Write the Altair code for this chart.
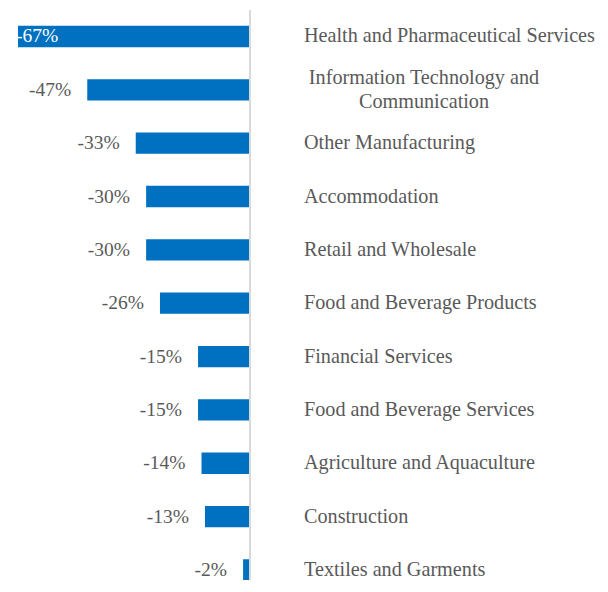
import altair as alt
import pandas as pd

categories = [
    "Health and Pharmaceutical Services",
    "Information Technology and Communication",
    "Other Manufacturing",
    "Accommodation",
    "Retail and Wholesale",
    "Food and Beverage Products",
    "Financial Services",
    "Food and Beverage Services",
    "Agriculture and Aquaculture",
    "Construction",
    "Textiles and Garments",
]
values = [-67, -47, -33, -30, -30, -26, -15, -15, -14, -13, -2]
label_lines = [
    ["Health and Pharmaceutical Services"],
    ["Information Technology and", "Communication"],
    ["Other Manufacturing"],
    ["Accommodation"],
    ["Retail and Wholesale"],
    ["Food and Beverage Products"],
    ["Financial Services"],
    ["Food and Beverage Services"],
    ["Agriculture and Aquaculture"],
    ["Construction"],
    ["Textiles and Garments"],
]

df = pd.DataFrame({
    "category": categories,
    "value": values,
    "lines": label_lines,
    "multi": [len(l) > 1 for l in label_lines],
    "inside": [v == min(values) for v in values],
})
df["pct"] = [f"{v}%" for v in values]
df["zero"] = 0

FONT = "Liberation Serif"
GREY = "#595959"
W, H = 242, 572
XDOM = [-69.89, 0]

xscale = alt.Scale(domain=XDOM, nice=False, zero=False)
x = alt.X("value:Q", scale=xscale, axis=None)
x0 = alt.X("zero:Q", scale=xscale, axis=None)
y = alt.Y("category:N", sort=categories, axis=None,
          scale=alt.Scale(range=[17.8, 572.6], paddingInner=0.6, paddingOuter=0))

base = alt.Chart(df)

bars = base.mark_bar(color="#0070C0").encode(x=x, x2=alt.datum(0), y=y)

axis_line = base.mark_rule(color="#d9d9d9", strokeWidth=2).encode(
    x=x0, y=alt.value(2), y2=alt.value(H + 10))

out_labels = base.transform_filter("!datum.inside").mark_text(
    align="right", baseline="middle", dx=-16, font=FONT, fontSize=19.5, color=GREY
).encode(x=x, y=y, text="pct:N")

in_labels = base.transform_filter("datum.inside").mark_text(
    align="left", baseline="middle", dx=-2, font=FONT, fontSize=19.5, color="white"
).encode(x=x, y=y, text="pct:N")

cat_single = base.transform_filter("!datum.multi").mark_text(
    align="left", baseline="middle", dx=54, font=FONT, fontSize=20.2, color=GREY
).encode(x=x0, y=y, text="lines")

cat_multi = base.transform_filter("datum.multi").mark_text(
    align="center", baseline="middle", dx=174, dy=-12, font=FONT, fontSize=20.2,
    color=GREY, lineHeight=24
).encode(x=x0, y=y, text="lines")

chart = alt.layer(bars, axis_line, out_labels, in_labels, cat_single, cat_multi).properties(
    width=W, height=H,
    autosize=alt.AutoSizeParams(type="none"),
    padding={"left": 0, "top": 0, "right": 350, "bottom": 0},
).configure_view(stroke=None)

chart.save("out.html", embed_options={"renderer": "svg", "actions": False})
